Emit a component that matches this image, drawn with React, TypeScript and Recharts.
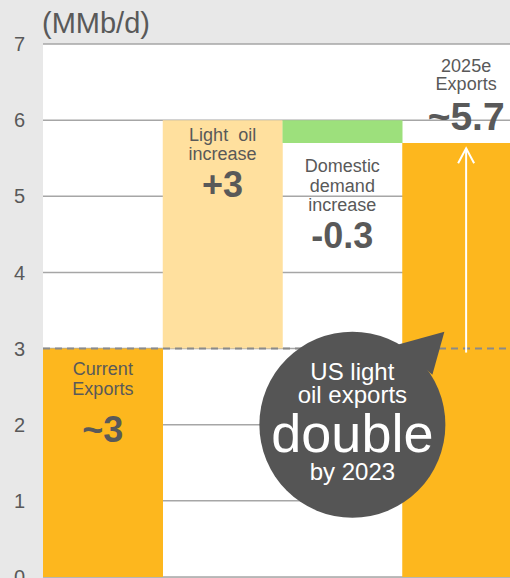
import { Bar, BarChart, CartesianGrid, ReferenceDot, ReferenceLine, XAxis, YAxis } from 'recharts';

const categories = ['Current exports', 'Light oil increase', 'Domestic demand increase', '2025e exports'];
const hiddenBase = [0, 3, 5.7, 0];
const exportsValues = [3, 0, 0, 5.7];
const lightOil = [0, 3, 0, 0];
const domesticDemand = [0, 0, 0.3, 0];
const yTicks = [0, 1, 2, 3, 4, 5, 6, 7];

// where each category's annotation is anchored (segment edge, in MMb/d)
const labelAnchors = [3, 6, 5.7, 5.7];
const labelLines = [
  ['Current', 'Exports'],
  ['Light  oil', 'increase'],
  ['Domestic', 'demand', 'increase'],
  ['2025e', 'Exports'],
];
const labelValues = ['~3', '+3', '-0.3', '~5.7'];
const bubbleLines = ['US light', 'oil exports', 'double', 'by 2023'];

const ORANGE = '#fdb71e';
const LIGHT = '#ffe09e';
const GREEN = '#9de07c';
const TEXT = '#595959';
const FONT = '"Liberation Sans", Arial, sans-serif';

const data = categories.map((c, i) => ({
  name: c,
  base: hiddenBase[i],
  exports: exportsValues[i],
  light: lightOil[i],
  demand: domesticDemand[i],
}));

function annotation(index: number) {
  return (props: any) => {
    const { cx, cy } = props;
    let lineYs: number[];
    let valueY: number;
    let valueSize = 36;
    let tx = cx;
    if (index === 0) {
      lineYs = [cy + 26, cy + 46];
      valueY = cy + 93;
    } else if (index === 1) {
      lineYs = [cy + 21, cy + 40];
      valueY = cy + 77;
    } else if (index === 2) {
      lineYs = [cy + 29, cy + 49, cy + 68];
      valueY = cy + 105;
    } else {
      lineYs = [cy - 71, cy - 53];
      valueY = cy - 13;
      valueSize = 39;
      tx = cx + 4;
    }
    return (
      <g fontFamily={FONT}>
        {labelLines[index].map((t, k) => (
          <text key={k} x={tx} y={lineYs[k]} textAnchor="middle" fontSize={18} fill={TEXT} style={{ whiteSpace: 'pre' }}>
            {t}
          </text>
        ))}
        <text x={tx} y={valueY} textAnchor="middle" fontSize={valueSize} fontWeight="bold" fill={TEXT}>
          {labelValues[index]}
        </text>
      </g>
    );
  };
}

const Arrow = (props: any) => {
  const { x1, y1, x2, y2 } = props;
  const ax = x1 + 4;
  const top = Math.min(y1, y2);
  const bottom = Math.max(y1, y2);
  return (
    <g>
      <line x1={ax} y1={bottom + 4} x2={ax} y2={top} stroke="#fff" strokeWidth={2} />
      <polyline points={`${ax - 8},${top + 15} ${ax},${top} ${ax + 8},${top + 15}`} fill="none" stroke="#fff" strokeWidth={2} />
    </g>
  );
};

const Bubble = (props: any) => {
  const cx = props.cx + 10;
  const cy = props.cy;
  return (
    <g fontFamily={FONT}>
      <circle cx={cx} cy={cy} r={93} fill="#555555" />
      <polygon points={`${cx + 45},${cy - 80} ${cx + 92},${cy - 93} ${cx + 80},${cy - 50}`} fill="#555555" />
      <text x={cx} y={cy - 45} textAnchor="middle" fontSize={24} fill="#fff">{bubbleLines[0]}</text>
      <text x={cx} y={cy - 22} textAnchor="middle" fontSize={24} fill="#fff">{bubbleLines[1]}</text>
      <text x={cx} y={cy + 27} textAnchor="middle" fontSize={54} fill="#fff">{bubbleLines[2]}</text>
      <text x={cx} y={cy + 55} textAnchor="middle" fontSize={24} fill="#fff">{bubbleLines[3]}</text>
    </g>
  );
};

export default function App() {
  return (
    <div
      style={{
        position: 'fixed',
        left: 0,
        top: 0,
        width: 510,
        height: 578,
        overflow: 'hidden',
        background: '#e8e8e8',
        fontFamily: FONT,
      }}
    >
      <div style={{ position: 'absolute', left: 42, top: 9, fontSize: 29, lineHeight: '29px', color: TEXT }}>
        (MMb/d)
      </div>
      <div style={{ position: 'absolute', left: 0, top: 0, width: 522, height: 600 }}>
        <BarChart
          width={522}
          height={600}
          data={data}
          margin={{ top: 44, right: 0, bottom: 23, left: 0 }}
          barCategoryGap={0}
          barGap={0}
          style={{ maxWidth: 'none' }}
        >
          <CartesianGrid vertical={false} stroke="#a6a6a6" strokeWidth={1.5} fill="#fff" />
          <XAxis dataKey="name" hide />
          <YAxis
            width={43}
            domain={[0, 7]}
            ticks={yTicks}
            interval={0}
            axisLine={false}
            tickLine={false}
            tickMargin={12}
            tick={{ fill: TEXT, fontSize: 20, fontFamily: FONT }}
          />
          <Bar dataKey="base" stackId="a" fill="#fff" fillOpacity={0} isAnimationActive={false} />
          <Bar dataKey="exports" stackId="a" fill={ORANGE} isAnimationActive={false} />
          <Bar dataKey="light" stackId="a" fill={LIGHT} isAnimationActive={false} />
          <Bar dataKey="demand" stackId="a" fill={GREEN} isAnimationActive={false} />
          <ReferenceLine y={3} stroke="#8a8a8a" strokeWidth={2} strokeDasharray="7 5" />
          <ReferenceLine
            segment={[
              { x: categories[3], y: 3 },
              { x: categories[3], y: 5.63 },
            ]}
            shape={Arrow}
          />
          {categories.map((c, i) => (
            <ReferenceDot key={c} x={c} y={labelAnchors[i]} r={0} shape={annotation(i)} ifOverflow="visible" />
          ))}
          <ReferenceDot x={categories[2]} y={2} r={0} shape={Bubble} ifOverflow="visible" />
        </BarChart>
      </div>
    </div>
  );
}
